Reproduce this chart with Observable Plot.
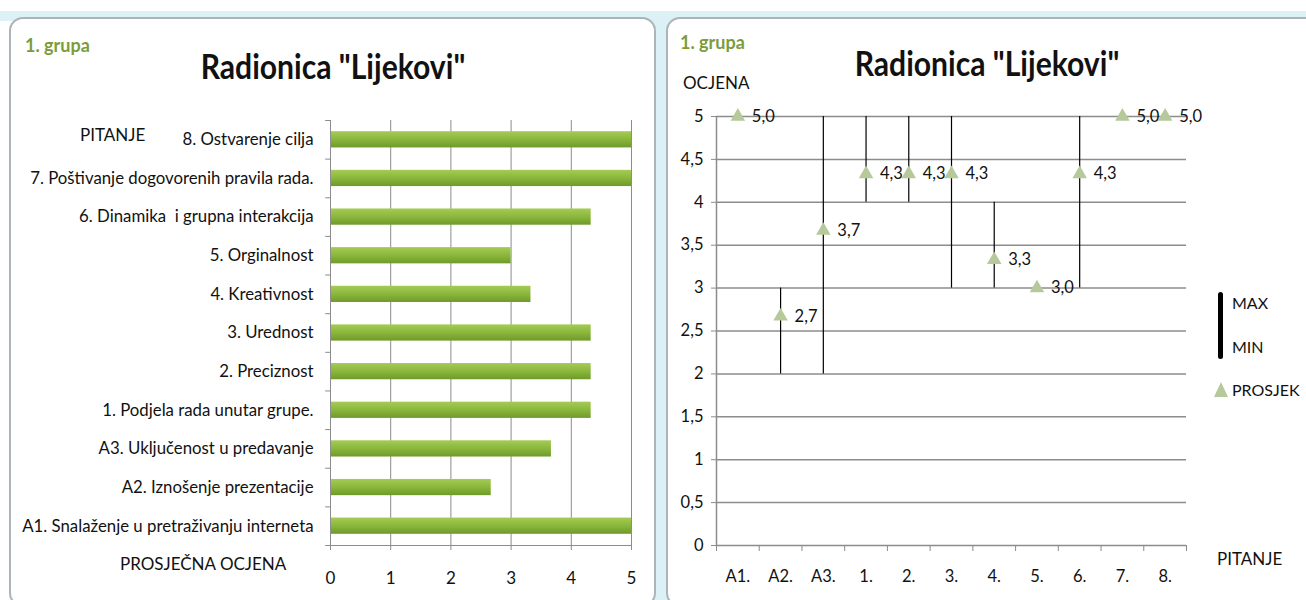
<!DOCTYPE html>
<html><head><meta charset="utf-8">
<script src="https://cdn.jsdelivr.net/npm/d3@7"></script>
<script src="https://cdn.jsdelivr.net/npm/@observablehq/plot@0.6"></script>
<style>
body{margin:0;background:#fff;}
#wrap{position:relative;width:1306px;height:600px;overflow:hidden;font-family:Lato,'Open Sans',sans-serif;}
.band{position:absolute;background:#dcf1f5;}
.panel{position:absolute;border:2px solid #aab5b7;border-radius:14px;background:#fff;box-sizing:border-box;}
.t{position:absolute;white-space:nowrap;color:#111;transform:translateY(-50%);line-height:1;}
.title{font-weight:bold;font-size:35px;transform:translate(-50%,-50%) scaleX(0.86);}
.grp{color:#7c9c3c;font-weight:bold;font-size:18px;}
.lbl{font-size:17px;}
.chart{position:absolute;top:0;}
</style></head>
<body><div id="wrap">
<div class="band" style="left:0;top:11px;width:1306px;height:10px"></div>
<div class="band" style="left:650px;top:11px;width:20px;height:600px"></div>
<div class="panel" style="left:9px;top:17px;width:647px;height:590px"></div>
<div class="panel" style="left:666px;top:17px;width:660px;height:590px"></div>
<div class="t grp" style="left:25px;top:45px">1. grupa</div>
<div class="t title" style="left:333px;top:65px">Radionica "Lijekovi"</div>
<div class="t lbl" style="left:80px;top:134px">PITANJE</div>
<div class="t lbl" style="left:120px;top:563px">PROSJEČNA OCJENA</div>
<div class="t grp" style="left:680px;top:42px">1. grupa</div>
<div class="t title" style="left:987px;top:62px">Radionica "Lijekovi"</div>
<div class="t lbl" style="left:683px;top:82px">OCJENA</div>
<div class="t lbl" style="left:1217px;top:558px">PITANJE</div>
<div id="left" class="chart" style="left:0"></div>
<div id="right" class="chart" style="left:660px"></div>
<div style="position:absolute;left:1218px;top:292px;width:5px;height:67px;background:#000;border-radius:3px"></div>
<div class="t lbl" style="left:1232px;top:303px;font-size:16px">MAX</div>
<div class="t lbl" style="left:1232px;top:347px;font-size:16px">MIN</div>
<svg style="position:absolute;left:1214px;top:382px" width="14" height="15"><polygon points="7,0 14,15 0,15" fill="#b5c99b"/></svg>
<div class="t lbl" style="left:1232px;top:390px;font-size:16px">PROSJEK</div>
</div>
<script>
const categories = ["A1. Snalaženje u pretraživanju interneta","A2. Iznošenje prezentacije","A3. Uključenost u predavanje","1. Podjela rada unutar grupe.","2. Preciznost","3. Urednost","4. Kreativnost","5. Orginalnost","6. Dinamika  i grupna interakcija","7. Poštivanje dogovorenih pravila rada.","8. Ostvarenje cilja"];
const shortLabels = ["A1.","A2.","A3.","1.","2.","3.","4.","5.","6.","7.","8."];
const averages = [5.0,2.67,3.67,4.33,4.33,4.33,3.33,3.0,4.33,5.0,5.0];
const minima = [5,2,2,4,4,3,3,3,3,5,5];
const maxima = [5,3,5,5,5,5,4,3,5,5,5];
const xTicksLeft = [0,1,2,3,4,5];
const yTicksRight = [0,0.5,1,1.5,2,2.5,3,3.5,4,4.5,5];

const font = "Lato,'Open Sans',sans-serif";
const fmt = v => v.toFixed(1).replace(".", ",");

const leftData = categories.map((c,i)=>({cat:c, avg:averages[i]}));
const lH = 600, lTop = 120, lBot = 55;
const lStep = (lH - lTop - lBot) / categories.length;
const left = Plot.plot({
  width:655, height:lH, marginLeft:330, marginRight:24, marginTop:lTop, marginBottom:lBot,
  x:{domain:[0,5]},
  y:{type:"band", domain:categories.slice().reverse(), paddingInner:0.58, paddingOuter:0.29, round:false},
  style:{fontFamily:font, fontSize:"16.8px", color:"#111", background:"transparent", overflow:"visible"},
  marks:[
    Plot.gridX(xTicksLeft.slice(1), {stroke:"#8c8c8c", strokeOpacity:1}),
    Plot.barX(leftData, {x:"avg", y:"cat", fill:"url(#barGrad)"}),
    Plot.ruleX([0], {stroke:"#8c8c8c"}),
    Plot.ruleY([categories[0]], {dy:lStep/2, stroke:"#8c8c8c"}),
    Plot.ruleY(categories, {x1:-0.08, x2:0, dy:lStep/2, stroke:"#8c8c8c"}),
    Plot.ruleY([categories[categories.length-1]], {x1:-0.08, x2:0, dy:-lStep/2, stroke:"#8c8c8c"}),
    Plot.axisY({tickSize:0, tickPadding:17, label:null}),
    Plot.axisX(xTicksLeft, {tickSize:5, tickPadding:21, label:null, stroke:"#8c8c8c", fontSize:17, tickFormat:d=>String(d)})
  ]
});
const defs = document.createElementNS("http://www.w3.org/2000/svg","defs");
defs.innerHTML = '<linearGradient id="barGrad" x1="0" y1="0" x2="0" y2="1"><stop offset="0" stop-color="#a6cb55"/><stop offset="0.5" stop-color="#8ab73c"/><stop offset="1" stop-color="#6f9a2a"/></linearGradient>';
left.insertBefore(defs, left.firstChild);
document.getElementById("left").appendChild(left);

const rightData = shortLabels.map((q,i)=>({q, avg:averages[i], min:minima[i], max:maxima[i]}));
const rW = 646, rL = 56, rR = 120;
const rStep = (rW - rL - rR) / shortLabels.length;
const right = Plot.plot({
  width:rW, height:600, marginLeft:rL, marginRight:rR, marginTop:116, marginBottom:55,
  x:{type:"band", domain:shortLabels, padding:0, round:false},
  y:{domain:[0,5]},
  style:{fontFamily:font, fontSize:"16.5px", color:"#111", background:"transparent", overflow:"visible"},
  marks:[
    Plot.gridY(yTicksRight, {stroke:"#8c8c8c", strokeOpacity:1, strokeWidth:1.5}),
    Plot.ruleX([shortLabels[0]], {dx:-rStep/2, stroke:"#8c8c8c", strokeWidth:1.5}),
    Plot.ruleX(shortLabels, {y1:0, y2:-0.07, dx:-rStep/2, stroke:"#8c8c8c"}),
    Plot.ruleX([shortLabels[shortLabels.length-1]], {y1:0, y2:-0.07, dx:rStep/2, stroke:"#8c8c8c"}),
    Plot.ruleX(rightData.filter(d=>d.max>d.min), {x:"q", y1:"min", y2:"max", stroke:"#000", strokeWidth:1.2}),
    Plot.dot(rightData, {x:"q", y:"avg", symbol:"triangle", r:5.4, fill:"#b5c99b"}),
    Plot.text(rightData, {x:"q", y:"avg", text:d=>fmt(d.avg), dx:14, textAnchor:"start", fontSize:16.5, fill:"#111"}),
    Plot.axisY(yTicksRight, {tickSize:5, tickPadding:8, label:null, stroke:"#8c8c8c", tickFormat:d=>String(d).replace(".", ",")}),
    Plot.axisX({tickSize:0, tickPadding:25, label:null})
  ]
});
document.getElementById("right").appendChild(right);
</script>
</body></html>
